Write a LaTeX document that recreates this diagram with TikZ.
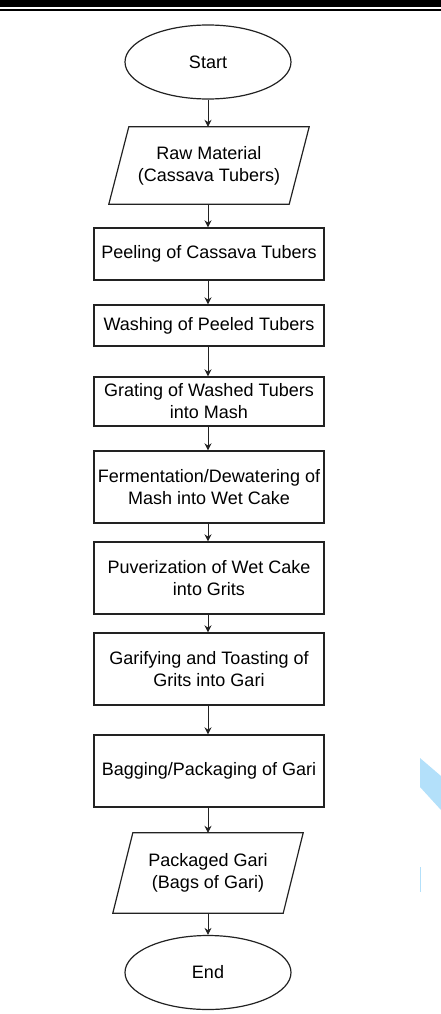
\documentclass[tikz,border=0pt]{standalone}
\usepackage{fontspec}
\setmainfont{Liberation Sans}
\usetikzlibrary{shapes.geometric,arrows.meta}
\definecolor{edge}{HTML}{222222}
\definecolor{artblue}{HTML}{B3E0FA}
\tikzset{
  every node/.style={font=\fontsize{18}{22}\selectfont, text=black, align=center},
  procbox/.style={draw=edge, line width=1.4pt, rectangle, minimum width=230pt, inner sep=0pt},
  term/.style={draw=edge, line width=1.2pt, ellipse, minimum width=166pt, minimum height=74pt, inner sep=0pt},
  iobox/.style={rectangle, inner sep=0pt},
  ioline/.style={draw=edge, line width=1.2pt, line join=miter},
  flow/.style={draw=edge, line width=0.9pt, -{Stealth[length=7pt,width=7pt]}}
}
\begin{document}
\begin{tikzpicture}[x=1pt,y=-1pt]
\useasboundingbox (0,0) rectangle (441,1014);
% header rules
\fill[black] (0,0) rectangle (441,7.3);
\draw[black, line width=1.5pt] (0,9.8) -- (441,9.8);
% scan artefacts at right
\fill[artblue] (420,758) -- (441,776) -- (441,810) -- (420,787) -- cycle;
\draw[artblue, line width=1pt] (420.5,867) -- (420.5,892);

\node[term] (start) at (208,62) {Start};

\node[iobox, minimum width=180pt, minimum height=77pt] (raw) at (209,165.5) {Raw Material\\(Cassava Tubers)};
\draw[ioline] ([xshift=10pt]raw.north west) -- ([xshift=10pt]raw.north east) -- ([xshift=-10pt]raw.south east) -- ([xshift=-10pt]raw.south west) -- cycle;

\node[procbox, minimum height=52pt] (peel) at (209,254) {Peeling of Cassava Tubers};
\node[procbox, minimum height=41pt] (wash) at (209,325.5) {Washing of Peeled Tubers};
\node[procbox, minimum height=49pt] (grate) at (209,401.5) {Grating of Washed Tubers\\into Mash};
\node[procbox, minimum height=72pt] (ferm) at (209,487) {Fermentation/Dewatering of\\Mash into Wet Cake};
\node[procbox, minimum height=72pt] (pulv) at (209,578) {Puverization of Wet Cake\\into Grits};
\node[procbox, minimum height=72pt] (gari) at (209,669) {Garifying and Toasting of\\Grits into Gari};
\node[procbox, minimum height=72pt] (bag) at (209,771) {Bagging/Packaging of Gari};

\node[iobox, minimum width=170pt, minimum height=80pt] (pack) at (208,873) {Packaged Gari\\(Bags of Gari)};
\draw[ioline] ([xshift=10pt]pack.north west) -- ([xshift=10pt]pack.north east) -- ([xshift=-10pt]pack.south east) -- ([xshift=-10pt]pack.south west) -- cycle;

\node[term] (end) at (208,972.5) {End};

\draw[flow] (start.south) -- (start.south |- raw.north);
\draw[flow] (raw.south -| start.south) -- (start.south |- peel.north);
\draw[flow] (start.south |- peel.south) -- (start.south |- wash.north);
\draw[flow] (start.south |- wash.south) -- (start.south |- grate.north);
\draw[flow] (start.south |- grate.south) -- (start.south |- ferm.north);
\draw[flow] (start.south |- ferm.south) -- (start.south |- pulv.north);
\draw[flow] (start.south |- pulv.south) -- (start.south |- gari.north);
\draw[flow] (start.south |- gari.south) -- (start.south |- bag.north);
\draw[flow] (start.south |- bag.south) -- (pack.north);
\draw[flow] (pack.south) -- (end.north);
\end{tikzpicture}
\end{document}
